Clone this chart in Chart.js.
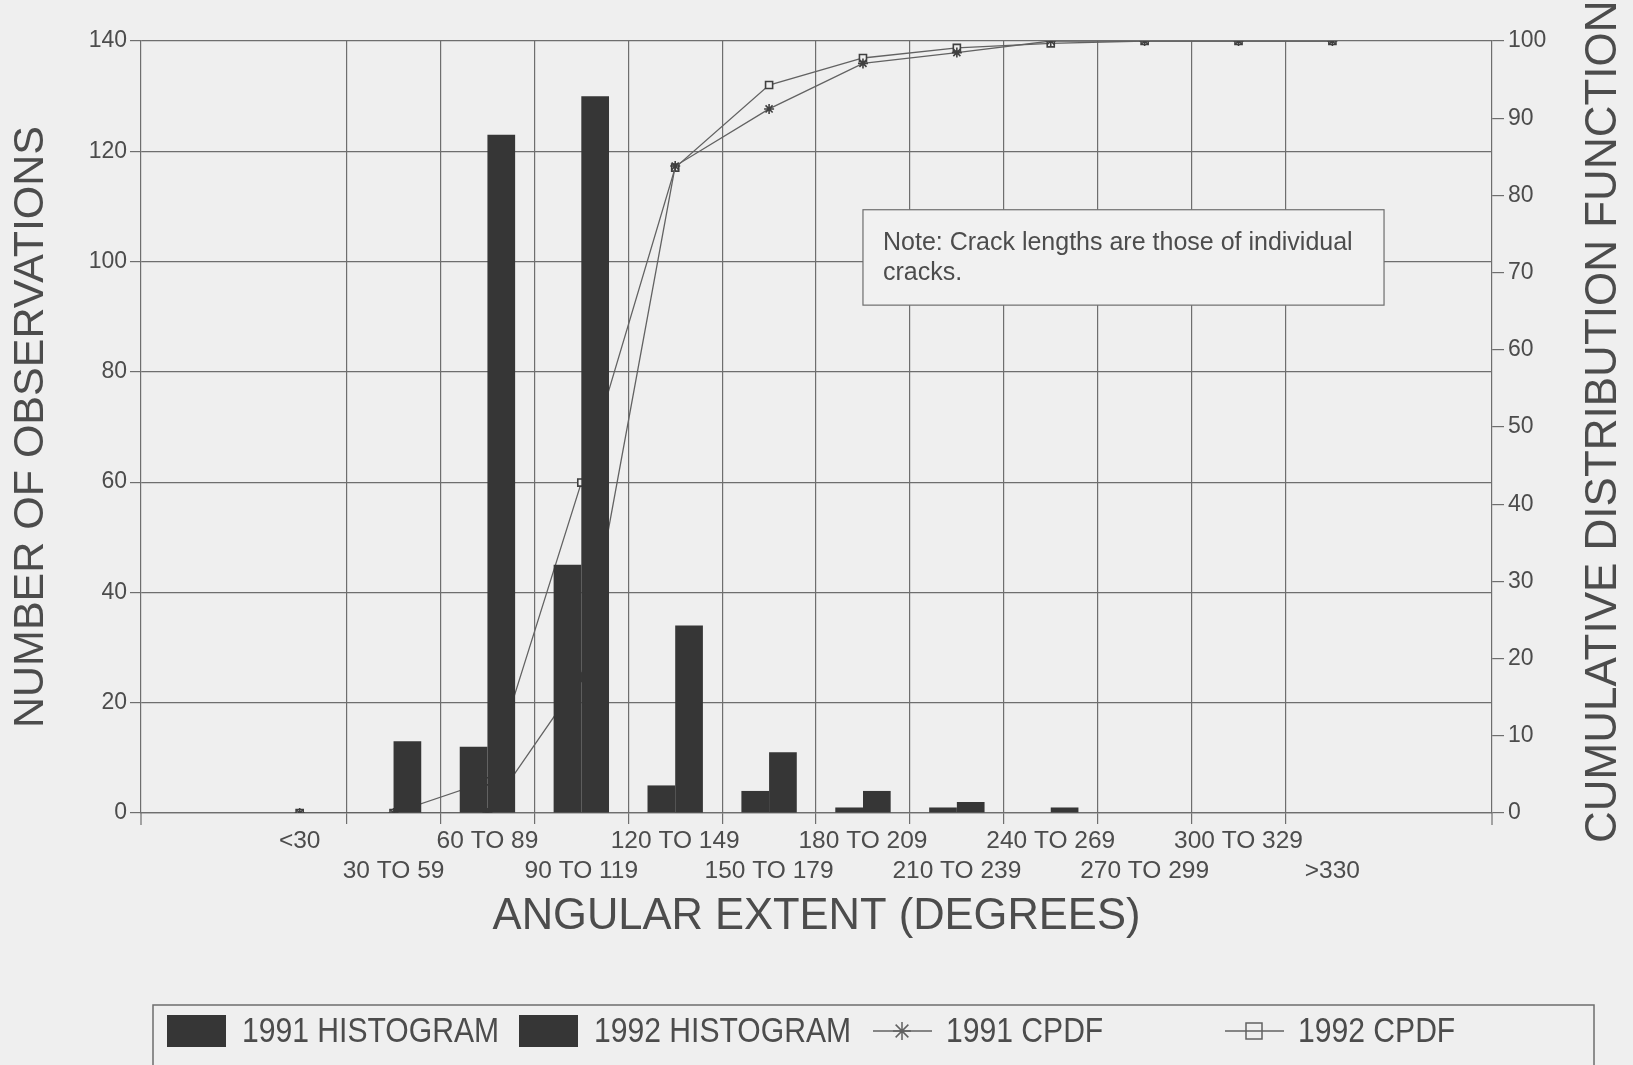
<!DOCTYPE html>
<html>
<head>
<meta charset="utf-8">
<title>Angular extent of cracks</title>
<style>
  html, body { margin: 0; padding: 0; background: #efefef; overflow: hidden; }
  canvas { display: block; }
</style>
<script src="https://cdn.jsdelivr.net/npm/chart.js@4.4.1/dist/chart.umd.min.js"></script>
</head>
<body>
<canvas id="chart" width="1633" height="1065"></canvas>
<script>
// Angular extent bins (degrees)
const categories = ['<30', '30 TO 59', '60 TO 89', '90 TO 119', '120 TO 149', '150 TO 179',
                    '180 TO 209', '210 TO 239', '240 TO 269', '270 TO 299', '300 TO 329', '>330'];

// Number of observations per bin
const hist1991 = [0, 0, 12, 45, 5, 4, 1, 1, 0, 0, 0, 0];
const hist1992 = [0, 13, 123, 130, 34, 11, 4, 2, 1, 0, 0, 0];

// Cumulative distribution (percent)
const cpdf1991 = [0, 0, 0, 17.6, 83.8, 91.2, 97.1, 98.5, 100, 100, 100, 100];
const cpdf1992 = [0, 0, 4.1, 42.8, 83.6, 94.3, 97.8, 99.1, 99.7, 100, 100, 100];

// Axis ranges and tick steps
const countTicks = { min: 0, max: 140, step: 20 };
const percentTicks = { min: 0, max: 100, step: 10 };

const noteLines = ['Note: Crack lengths are those of individual', 'cracks.'];
const legendLabels = ['1991 HISTOGRAM', '1992 HISTOGRAM', '1991 CPDF', '1992 CPDF'];

const FONT = '"Liberation Sans", Arial, Helvetica, sans-serif';
const BG = '#efefef';
const INK = '#4c4c4c';
const GRID = '#6e6e6e';
const BAR = '#363636';
const LINE = '#626262';

const toPoints = arr => arr.map((v, i) => ({ x: i, y: v }));

// paper background
const backgroundPlugin = {
  id: 'paper',
  beforeDraw(chart) {
    const { ctx, width, height } = chart;
    ctx.save();
    ctx.fillStyle = BG;
    ctx.fillRect(0, 0, width, height);
    ctx.restore();
  }
};

// boxed note inside the plot, covering the grid
const notePlugin = {
  id: 'note',
  beforeDatasetsDraw(chart) {
    const { ctx, scales: { x, y } } = chart;
    const left = x.getPixelForValue(6.0);
    const right = x.getPixelForValue(11.55);
    const top = y.getPixelForValue(109.4);
    const bottom = y.getPixelForValue(92.1);
    ctx.save();
    ctx.fillStyle = '#f1f1f1';
    ctx.fillRect(left, top, right - left, bottom - top);
    ctx.strokeStyle = GRID;
    ctx.lineWidth = 1.2;
    ctx.strokeRect(left, top, right - left, bottom - top);
    ctx.fillStyle = INK;
    ctx.font = '25px ' + FONT;
    ctx.textBaseline = 'middle';
    ctx.textAlign = 'left';
    noteLines.forEach((t, i) => ctx.fillText(t, left + 20, top + 33 + i * 30));
    ctx.restore();
  }
};

// right-hand title (reads bottom to top), end ticks, and the boxed legend
const decorPlugin = {
  id: 'decor',
  afterDraw(chart) {
    const { ctx, chartArea } = chart;
    ctx.save();

    // axis lines continue a little below the baseline
    ctx.strokeStyle = GRID;
    ctx.lineWidth = 1.2;
    [chartArea.left, chartArea.right].forEach(px => {
      ctx.beginPath();
      ctx.moveTo(px, chartArea.bottom);
      ctx.lineTo(px, chartArea.bottom + 12);
      ctx.stroke();
    });

    // right axis title
    ctx.save();
    ctx.translate(1604, chartArea.bottom + 30);
    ctx.rotate(-Math.PI / 2);
    ctx.fillStyle = INK;
    ctx.font = '44px ' + FONT;
    ctx.textAlign = 'left';
    ctx.textBaseline = 'middle';
    ctx.fillText('CUMULATIVE DISTRIBUTION FUNCTION', 0, 0);
    ctx.restore();

    // legend frame
    const lx = 153, ly = 1005, lw = 1441;
    ctx.strokeStyle = GRID;
    ctx.lineWidth = 1.5;
    ctx.strokeRect(lx, ly, lw, 120);

    const pitch = 352;
    const cy = 1031;
    legendLabels.forEach((label, i) => {
      const sx = 167 + i * pitch;
      if (i < 2) {
        ctx.fillStyle = BAR;
        ctx.fillRect(sx, cy - 16, 59, 32);
      } else {
        ctx.strokeStyle = LINE;
        ctx.lineWidth = 1.5;
        ctx.beginPath();
        ctx.moveTo(sx + 2, cy);
        ctx.lineTo(sx + 61, cy);
        ctx.stroke();
        const mx = sx + 31;
        if (i === 2) {
          const r = 9;
          ctx.beginPath();
          for (let a = 0; a < 4; a++) {
            const ang = a * Math.PI / 4;
            ctx.moveTo(mx - r * Math.cos(ang), cy - r * Math.sin(ang));
            ctx.lineTo(mx + r * Math.cos(ang), cy + r * Math.sin(ang));
          }
          ctx.stroke();
        } else {
          ctx.strokeRect(mx - 8, cy - 8, 16, 16);
        }
      }
      // condensed lettering
      ctx.save();
      ctx.translate(sx + 75, cy + 1);
      ctx.scale(0.86, 1);
      ctx.fillStyle = INK;
      ctx.font = '35px ' + FONT;
      ctx.textBaseline = 'middle';
      ctx.textAlign = 'left';
      ctx.fillText(label, 0, 0);
      ctx.restore();
    });
    ctx.restore();
  }
};

const ctx = document.getElementById('chart').getContext('2d');

new Chart(ctx, {
  type: 'bar',
  data: {
    datasets: [
      {
        label: '1991 HISTOGRAM',
        data: toPoints(hist1991),
        yAxisID: 'y',
        backgroundColor: BAR,
        borderWidth: 0,
        categoryPercentage: 0.59,
        barPercentage: 1.0,
        order: 1
      },
      {
        label: '1992 HISTOGRAM',
        data: toPoints(hist1992),
        yAxisID: 'y',
        backgroundColor: BAR,
        borderWidth: 0,
        categoryPercentage: 0.59,
        barPercentage: 1.0,
        order: 1
      },
      {
        type: 'line',
        label: '1991 CPDF',
        data: toPoints(cpdf1991),
        yAxisID: 'y2',
        borderColor: LINE,
        borderWidth: 1.3,
        tension: 0,
        pointStyle: 'star',
        pointRadius: 5,
        pointBorderColor: '#404040',
        pointBorderWidth: 1.6,
        pointBackgroundColor: 'rgba(0,0,0,0)',
        order: 2
      },
      {
        type: 'line',
        label: '1992 CPDF',
        data: toPoints(cpdf1992),
        yAxisID: 'y2',
        borderColor: LINE,
        borderWidth: 1.3,
        tension: 0,
        pointStyle: 'rect',
        pointRadius: 5,
        pointBorderColor: '#404040',
        pointBorderWidth: 1.6,
        pointBackgroundColor: BG,
        order: 3
      }
    ]
  },
  options: {
    responsive: false,
    animation: false,
    devicePixelRatio: 1,
    layout: { padding: { left: 0, right: 0, top: 41, bottom: 112 } },
    plugins: {
      legend: { display: false },
      tooltip: { enabled: false }
    },
    scales: {
      x: {
        type: 'linear',
        min: -1.69,
        max: 12.7,
        offset: false,
        bounds: 'data',
        afterBuildTicks: s => { s.ticks = categories.map((_, i) => ({ value: i })); },
        afterFit: s => { s.height = 140; },
        grid: {
          offset: true,
          color: c => (c.index > 0 && c.index < categories.length) ? GRID : 'rgba(0,0,0,0)',
          lineWidth: 1.2,
          tickLength: 11,
          drawTicks: true
        },
        border: { display: true, color: GRID, width: 1.2 },
        ticks: {
          autoSkip: false,
          maxRotation: 0,
          minRotation: 0,
          padding: 2,
          color: INK,
          font: { family: FONT, size: 24.5, lineHeight: 1.22 },
          callback: v => (v % 2 ? ['', categories[v]] : categories[v])
        },
        title: {
          display: true,
          text: 'ANGULAR EXTENT (DEGREES)',
          color: INK,
          font: { family: FONT, size: 43.5, lineHeight: 1.2 },
          padding: { top: 0, bottom: 10 }
        }
      },
      y: {
        position: 'left',
        min: countTicks.min,
        max: countTicks.max,
        afterFit: s => { s.width = 141; },
        ticks: { stepSize: countTicks.step, color: INK, padding: 3, font: { family: FONT, size: 23 } },
        grid: { color: GRID, lineWidth: 1.2, tickLength: 11 },
        border: { display: true, color: GRID, width: 1.2 },
        title: {
          display: true,
          text: 'NUMBER OF OBSERVATIONS',
          color: INK,
          font: { family: FONT, size: 43, lineHeight: 1.2 },
          padding: { top: 5, bottom: 0 }
        }
      },
      y2: {
        position: 'right',
        min: percentTicks.min,
        max: percentTicks.max,
        afterFit: s => { s.width = 141; },
        ticks: { stepSize: percentTicks.step, color: INK, padding: 4, font: { family: FONT, size: 23 } },
        grid: { drawOnChartArea: false, color: GRID, lineWidth: 1.2, tickLength: 12 },
        border: { display: true, color: GRID, width: 1.2 },
        title: { display: false }
      }
    }
  },
  plugins: [backgroundPlugin, notePlugin, decorPlugin]
});
</script>
</body>
</html>
